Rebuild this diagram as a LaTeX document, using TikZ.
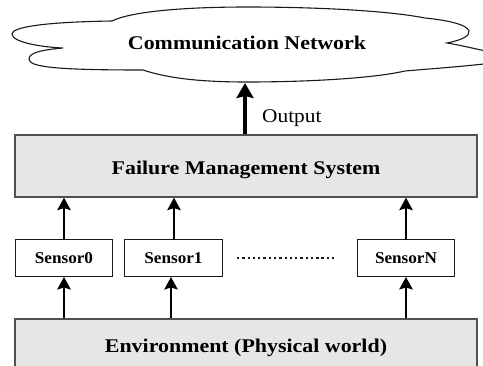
\documentclass[tikz,border=0pt]{standalone}
\usepackage{graphicx}
\usepackage{fontspec}
\setmainfont{Liberation Serif}
\usetikzlibrary{arrows.meta}
\definecolor{boxfill}{HTML}{E6E6E6}
\definecolor{boxline}{HTML}{505050}
\definecolor{inkc}{HTML}{1A1A1A}
\newcommand{\bigtxt}[1]{\scalebox{1.13}[1]{\fontsize{19.4}{22}\selectfont\bfseries #1}}
\newcommand{\sentxt}[1]{\scalebox{1.04}[1]{\fontsize{16.5}{19}\selectfont\bfseries #1}}
\tikzset{
  bigbox/.style={draw=boxline, line width=1.3pt, fill=boxfill, rectangle, minimum width=462pt, inner sep=0pt},
  sensorbox/.style={draw=inkc, line width=1pt, fill=white, rectangle, minimum width=97.5pt, minimum height=37pt, inner sep=0pt, text height=10pt, text depth=0pt},
  arr/.style={draw=black, line width=1.7pt, -{Stealth[length=12.5pt,width=13.5pt,inset=2pt]}},
  bigarr/.style={draw=black, line width=3.5pt, -{Stealth[length=15pt,width=17pt,inset=2pt]}},
  cloudline/.style={draw=inkc, line width=1.1pt, fill=white},
  dotline/.style={draw=inkc, line width=2.5pt, dash pattern=on 2.3pt off 2.98pt}
}
\begin{document}
\begin{tikzpicture}[x=1pt,y=-1pt]
\useasboundingbox (0,0) rectangle (483,365);
\clip (0,0) rectangle (483,365);
% cloud
\draw[cloudline] (112,21) .. controls (45,22) and (12,27) .. (12,34)
  .. controls (12,42) and (40,47) .. (63,48)
  .. controls (40,50) and (29,53) .. (29,59)
  .. controls (29,67) and (55,70) .. (143,70)
  .. controls (170,79) and (205,82) .. (247,82)
  .. controls (300,82) and (370,79) .. (405,71)
  .. controls (440,68) and (470,66) .. (500,62)
  -- (500,54)
  .. controls (480,50) and (460,45) .. (447,43)
  .. controls (462,40) and (470,36) .. (469,31)
  .. controls (467,24) and (445,20) .. (425,18)
  .. controls (390,11) and (320,7) .. (247,7)
  .. controls (180,7) and (130,12) .. (112,21) -- cycle;
\node[anchor=base, inner sep=0pt] (net) at (247,49) {\bigtxt{Communication Network}};
\coordinate (cloudbot) at (245,83);
% failure management system
\node[bigbox, minimum height=62pt, text height=16pt, text depth=0pt] (fms) at (246,166) {\bigtxt{Failure Management System}};
% environment
\node[bigbox, minimum height=60pt, text height=6pt, text depth=0pt] (env) at (246,349) {\bigtxt{Environment (Physical world)}};
% sensors
\node[sensorbox] (s0) at (64,258) {\sentxt{Sensor0}};
\node[sensorbox] (s1) at (173.5,258) {\sentxt{Sensor1}};
\node[sensorbox] (sn) at (406,258) {\sentxt{SensorN}};
\coordinate (d1) at (237,258);
\coordinate (d2) at (334,258);
\draw[dotline] (d1) -- (d2);
% arrows sensors -> fms
\draw[arr] (s0.north) -- (s0.north |- fms.south);
\draw[arr] ([xshift=0.5pt]s1.north) -- ([xshift=0.5pt]s1.north |- fms.south);
\draw[arr] (sn.north) -- (sn.north |- fms.south);
% arrows env -> sensors
\draw[arr] (s0.south |- env.north) -- (s0.south);
\draw[arr] ([xshift=-2.5pt]s1.south |- env.north) -- ([xshift=-2.5pt]s1.south);
\draw[arr] (sn.south |- env.north) -- (sn.south);
% output
\draw[bigarr] (cloudbot |- fms.north) -- (cloudbot);
\node[anchor=base west, inner sep=0pt] (out) at (262,122) {\scalebox{1.1}[1]{\fontsize{19.4}{22}\selectfont Output}};
\end{tikzpicture}
\end{document}
